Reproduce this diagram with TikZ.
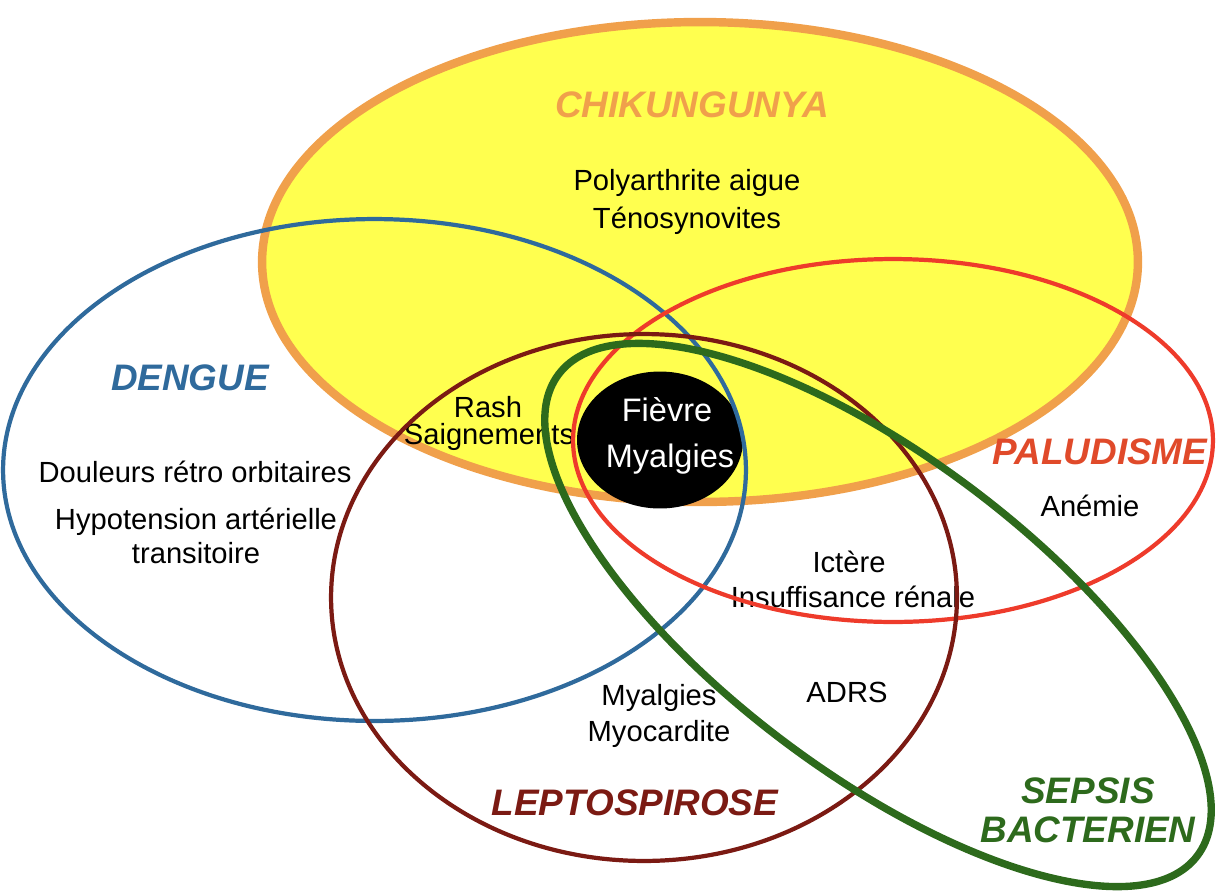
\documentclass[tikz,border=0pt]{standalone}
\usepackage{fontspec}
\setmainfont{Liberation Sans}
\usetikzlibrary{shapes.geometric}
\definecolor{chikor}{HTML}{F0A04B}
\definecolor{chikye}{HTML}{FFFF4F}
\definecolor{dblue}{HTML}{2F6A9C}
\definecolor{pred}{HTML}{EE3B2B}
\definecolor{ptitle}{HTML}{E04A2A}
\definecolor{lmar}{HTML}{7B1A13}
\definecolor{sgreen}{HTML}{2D6A1C}
\tikzset{
  ring/.style={ellipse, draw, inner sep=0pt, outer sep=0pt},
  body/.style={font=\fontsize{16.6}{20}\selectfont, text=black, inner sep=0pt, align=center},
  title/.style={font=\fontsize{21}{25}\selectfont\bfseries\itshape, inner sep=0pt, align=center},
  fev/.style={font=\fontsize{18.5}{22}\selectfont, text=white, inner sep=0pt}
}
\begin{document}
\begin{tikzpicture}[x=0.02cm, y=-0.02cm]
\useasboundingbox (0,0) rectangle (1217,893);
% Chikungunya
\node[ring, fill=chikye, draw=chikor, line width=4.8pt, minimum width=17.52cm, minimum height=9.6cm] (chik) at (700,262) {};
% centre
\node[ring, fill=black, draw=none, minimum width=3.32cm, minimum height=2.74cm] (centre) at (660,440) {};
% texts
\node[title, text=chikor] (tchik) at (692,105) {CHIKUNGUNYA};
\node[body] (poly) at (687,183) {Polyarthrite aigue};
\node[body] (teno) at (687,221) {Ténosynovites};
\node[title, text=dblue] (tden) at (190,378) {DENGUE};
\node[body] (doul) at (195,472) {Douleurs rétro orbitaires};
\node[body] (hypo) at (196,522) {Hypotension artérielle};
\node[body] (tran) at (196,553) {transitoire};
\node[body] (rash) at (488,407) {Rash};
\node[body] (saig) at (489,437) {Saignements};
\node[fev] (fiev) at (667,410) {Fièvre};
\node[fev] (myal) at (670,459) {Myalgies};
\node[title, text=ptitle] (tpal) at (1100,452) {PALUDISME};
\node[body] (anem) at (1090,506) {Anémie};
\node[body] (icte) at (849,562) {Ictère};
\node[body] (insu) at (853,597) {Insuffisance rénale};
\node[body] (adrs) at (847,692) {ADRS};
\node[body] (myal2) at (659,698) {Myalgies};
\node[body] (myoc) at (659,734) {Myocardite};
\node[title, text=lmar] (tlep) at (635,803) {LEPTOSPIROSE};
\node[title, text=sgreen] (tsep) at (1088,810) {SEPSIS\\[-3pt]BACTERIEN};
% outlines
\node[ring, draw=dblue, line width=2.4pt, minimum width=14.86cm, minimum height=10.04cm] (den) at (374.5,470) {};
\node[ring, draw=pred, line width=2.4pt, minimum width=12.8cm, minimum height=7.26cm] (pal) at (893,440.5) {};
\node[ring, draw=lmar, line width=2.4pt, minimum width=12.52cm, minimum height=10.54cm] (lep) at (644,597.5) {};
\node[ring, draw=sgreen, line width=4.2pt, minimum width=16cm, minimum height=6.3cm, rotate=-37] (sep) at (878,615) {};
\end{tikzpicture}
\end{document}
